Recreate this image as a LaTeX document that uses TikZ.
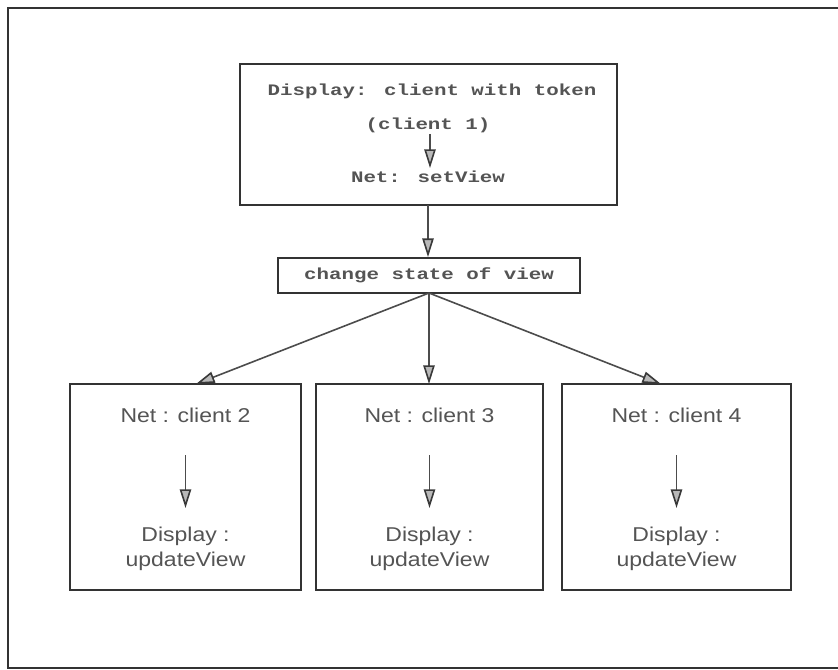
\documentclass[tikz,border=0pt]{standalone}
\usepackage{fontspec}
\setmainfont{Liberation Sans}[FakeStretch=1.15]
\newfontfamily\monofont{Liberation Mono}[FakeStretch=1.3]
\usetikzlibrary{arrows.meta}
\definecolor{ink}{gray}{0.2}
\definecolor{txt}{gray}{0.33}
\tikzset{
  px/.style={x=0.75pt,y=-0.75pt},
  frame/.style={draw=ink,line width=1.6pt},
  boxline/.style={draw=ink,line width=1.6pt},
  flow/.style={draw=gray!60!black,line width=1.2pt,
    -{Triangle[length=14pt,width=8.5pt,color=gray!45!black,fill=gray!55]}},
  monotext/.style={text=txt,font=\monofont\bfseries\fontsize{12}{14}\selectfont,inner sep=1pt},
  sanstext/.style={text=txt,font=\fontsize{15}{18.5}\selectfont},
}
\begin{document}
\begin{tikzpicture}[px]
\useasboundingbox (0,0) rectangle (838,670);
% outer frame (open on the right)
\draw[frame] (838,8) -- (8,8) -- (8,668) -- (838,668);
% client holding the token
\draw[boxline] (240,64) rectangle (617,205);
\node[monotext] (disp) at (432,91) {Display: client with token};
\node[monotext] (c1) at (428,125) {(client 1)};
\node[monotext] (setv) at (428,177) {Net: setView};
\draw[flow] (430,134) -- (430,168);
\coordinate (topbox) at (428,205);
% shared state change
\node[boxline,monotext,minimum width=226.5pt,minimum height=26pt,inner sep=0pt] (state) at (429,275.5) {change state of view};
\draw[flow] (topbox) -- (state.north -| topbox);
% receiving clients
\foreach \n/\l/\r/\num in {a/70/301/2,b/316/543/3,c/562/791/4}{
  \draw[boxline] (\l,384) rectangle (\r,590);
  \coordinate (top\n) at ({(\l+\r)/2},384);
  \node[sanstext] (net\n) at ({(\l+\r)/2},415) {Net : client \num};
  \node[sanstext,align=center] (upd\n) at ({(\l+\r)/2},549) {Display :\\updateView};
  \draw[flow] ({(\l+\r)/2},455) -- ({(\l+\r)/2},508);
}
\coordinate (base) at (429,293);
\draw[flow] (base) -- (196,384);
\draw[flow] (base) -- (429,384);
\draw[flow] (base) -- (661,384);
\end{tikzpicture}
\end{document}
